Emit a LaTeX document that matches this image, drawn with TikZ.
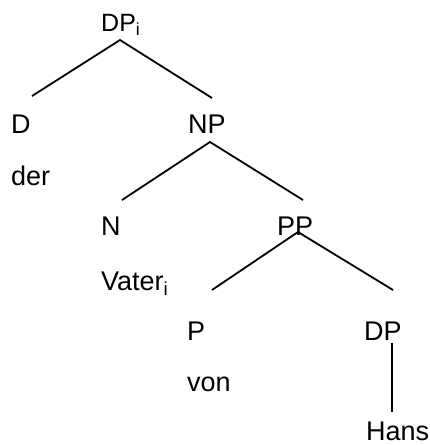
\documentclass[tikz,border=0pt]{standalone}
\usepackage{fontspec}
\setmainfont{Liberation Sans}
\begin{document}
\begin{tikzpicture}[x=1pt,y=-1pt,
  lbl/.style={inner sep=0pt,anchor=base west,font=\fontsize{27}{32}\selectfont},
  toplbl/.style={lbl,font=\fontsize{25}{30}\selectfont},
  edge/.style={line width=1.8pt}]
\useasboundingbox (0,0) rectangle (430,445);
% labels
\node[toplbl] (dpi) at (101,31) {DP\textsubscript{i}};
\node[lbl] (d) at (11,133) {D};
\node[lbl] (der) at (11,185) {der};
\node[lbl] (np) at (188,133) {NP};
\node[lbl] (n) at (101,235) {N};
\node[lbl] (vater) at (101,290) {Vater\textsubscript{i}};
\node[lbl] (pp) at (277,235) {PP};
\node[lbl] (p) at (187,340) {P};
\node[lbl] (von) at (187,391) {von};
\node[lbl] (dp) at (364,340) {DP};
\node[lbl] (hans) at (366,440) {Hans};
% connector ends
\coordinate (dpiA) at (120,40);
\coordinate (dL) at (32,96);
\coordinate (npR) at (212,98);
\coordinate (npA) at (210,142);
\coordinate (nL) at (122,200);
\coordinate (ppR) at (303,200);
\coordinate (ppA) at (298,232);
\coordinate (pL) at (212,290);
\coordinate (dpR) at (393,290);
\coordinate (dpA) at (392,343);
\coordinate (hansT) at (392,412);
\draw[edge] (dL) -- (dpiA) -- (npR);
\draw[edge] (nL) -- (npA) -- (ppR);
\draw[edge] (pL) -- (ppA) -- (dpR);
\draw[edge] (dpA) -- (hansT);
\end{tikzpicture}
\end{document}
